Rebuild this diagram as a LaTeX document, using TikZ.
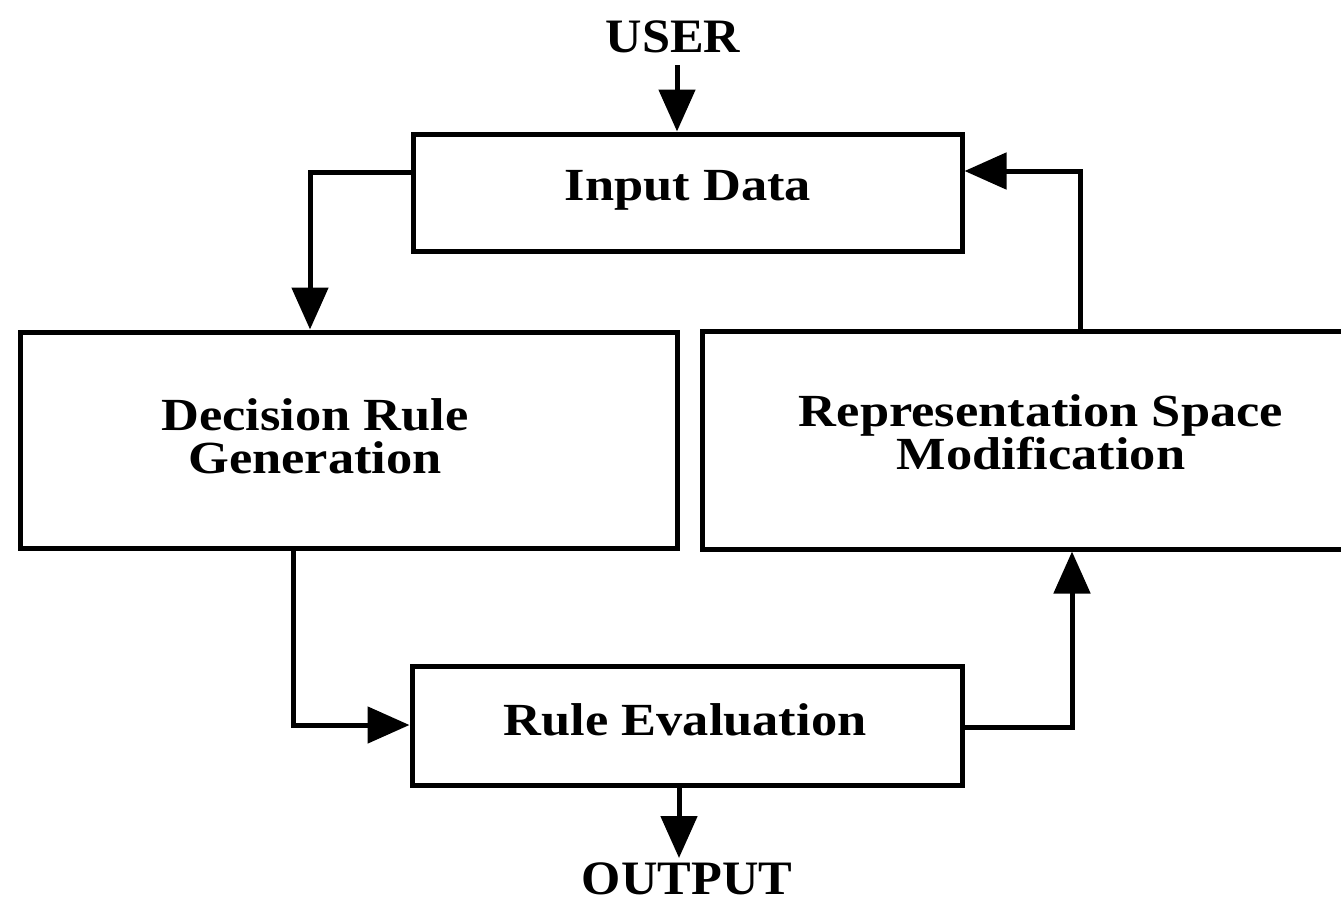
\documentclass[tikz,border=0pt]{standalone}
\usepackage{fontspec}
\setmainfont{Liberation Serif}
\newfontfamily\widefont[FakeStretch=1.14]{Liberation Serif}
\newfontfamily\capfont[FakeStretch=1.05]{Liberation Serif}
\usetikzlibrary{arrows.meta}
\begin{document}
\begin{tikzpicture}[x=1pt,y=-1pt,
  box/.style={draw, line width=5pt, inner sep=0pt},
  lbl/.style={font=\widefont\fontsize{46}{43}\selectfont\bfseries, align=center, inner sep=0pt},
  endlbl/.style={font=\capfont\fontsize{48}{48}\selectfont\bfseries, align=center, inner sep=0pt},
  arr/.style={line width=5pt, -{Triangle[length=42pt,width=36pt]}}]
\useasboundingbox[fill=white] (0,0) rectangle (1341,903);
% boxes
\node[box, minimum width=549pt, minimum height=117pt] (in) at (687.5,192.5) {};
\node[box, minimum width=657pt, minimum height=216pt] (dec) at (348.5,440) {};
\node[box, minimum width=660pt, minimum height=218pt] (rep) at (1032,440) {};
\node[box, minimum width=550pt, minimum height=119pt] (ev) at (687,725.5) {};
% texts
\node[lbl] (tin) at (688,190) {Input Data};
\node[lbl] (tdec) at (315,436) {Decision Rule\\Generation};
\node[lbl] (trep) at (1041,432) {Representation Space\\Modification};
\node[lbl] (tev) at (685,720) {Rule Evaluation};
\node[endlbl] (user) at (673,37) {USER};
\node[endlbl] (out) at (687,879) {OUTPUT};
% connectors
\coordinate (a0) at (677,65);
\coordinate (a1) at (310,172);
\coordinate (a2) at (293,725);
\coordinate (a3) at (1072,727);
\coordinate (a4) at (1080,171);
\coordinate (a5) at (679,858);
\draw[arr] (a0) -- (in.north -| a0);
\draw[arr] (in.west |- a1) -| (dec.north -| a1);
\draw[arr] (dec.south -| a2) |- (ev.west |- a2);
\draw[arr] (ev.east |- a3) -| (rep.south -| a3);
\draw[arr] (rep.north -| a4) |- (in.east |- a4);
\draw[arr] (ev.south -| a5) -- (a5);
\end{tikzpicture}
\end{document}
